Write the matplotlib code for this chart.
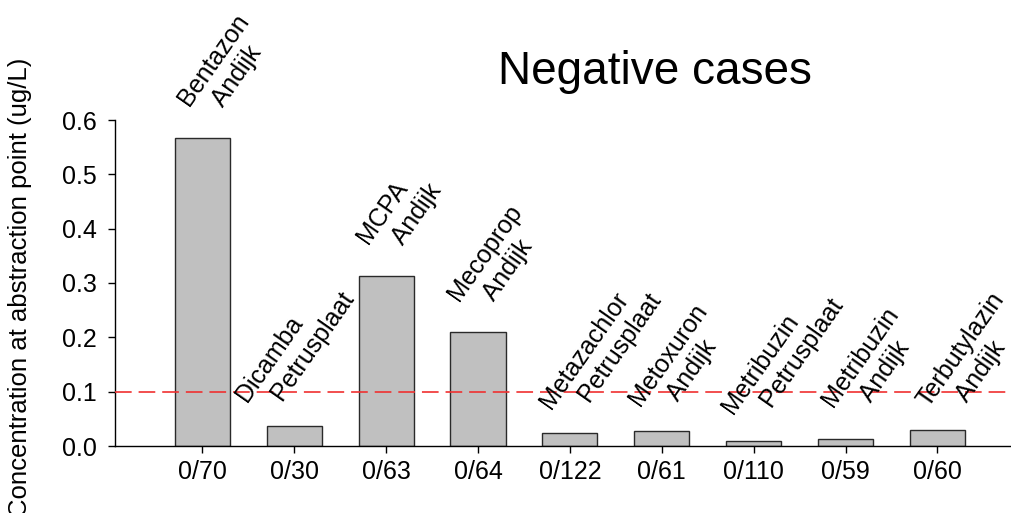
import numpy as np
import matplotlib
matplotlib.use("Agg")
import matplotlib.pyplot as plt
import matplotlib.transforms as mtransforms

plt.rcParams['font.family'] = ['Liberation Sans', 'DejaVu Sans']
plt.rcParams['lines.scale_dashes'] = False

# pesticide / abstraction point, concentration (ug/L) and exceedance counts
compounds = ['Bentazon', 'Dicamba', 'MCPA', 'Mecoprop', 'Metazachlor',
             'Metoxuron', 'Metribuzin', 'Metribuzin', 'Terbutylazin']
locations = ['Andijk', 'Petrusplaat', 'Andijk', 'Andijk', 'Petrusplaat',
             'Andijk', 'Petrusplaat', 'Andijk', 'Andijk']
concentration = [0.567, 0.037, 0.313, 0.210, 0.024, 0.028, 0.009, 0.013, 0.030]
counts = ['0/70', '0/30', '0/63', '0/64', '0/122', '0/61', '0/110', '0/59', '0/60']
limit = 0.1

# baseline start of each rotated name: offset from bar centre, height in ug/L
label_dx = [-0.23, -0.59, -0.276, -0.287, -0.29, -0.32, -0.31, -0.22, -0.18]
label_y = [0.633, 0.088, 0.379, 0.275, 0.075, 0.081, 0.066, 0.079, 0.079]
indent = [3, 3, 3, 3, 4, 4, 4, 4, 4]

x = np.arange(len(compounds))

fig = plt.figure(figsize=(10.11, 5.13), dpi=100)
ax = fig.add_axes([115 / 1011, 67 / 513, 896 / 1011, 326 / 513])

ax.bar(x, concentration, width=0.6, color='#c0c0c0', edgecolor='#2a2a2a',
       linewidth=1.0, zorder=2)
ax.axhline(limit, color='#f03030', lw=1.2, dashes=(12, 5), zorder=3)

# the anchor sits on the second line's baseline, one line below the first
line_shift = mtransforms.offset_copy(ax.transData, fig=fig, x=27, y=-19,
                                     units='dots')
for i in range(len(x)):
    txt = compounds[i] + '\n' + ' ' * indent[i] + locations[i]
    ax.text(x[i] + label_dx[i], label_y[i], txt, rotation=55,
            rotation_mode='anchor', ha='left', va='baseline',
            multialignment='left', fontsize=18, linespacing=1.25, zorder=4,
            transform=line_shift)

ax.set_xlim(-0.95, 8.8)
ax.set_ylim(0, 0.6)
ax.set_xticks(x)
ax.set_xticklabels(counts, fontsize=18)
ax.set_yticks(np.arange(0, 0.61, 0.1))
ax.set_yticklabels(['%.1f' % v for v in np.arange(0, 0.61, 0.1)], fontsize=18)
ax.tick_params(axis='both', direction='out', length=5, width=1)
ax.tick_params(axis='y', pad=8)
ax.tick_params(axis='x', pad=5)

ax.spines['top'].set_visible(False)
ax.spines['right'].set_visible(False)
ax.spines['left'].set_linewidth(1)
ax.spines['bottom'].set_linewidth(1)

fig.text(20 / 1011, 0.44, 'Concentration at abstraction point (ug/L)',
         rotation=90, ha='center', va='center', fontsize=18.5)
fig.text(655 / 1011, (513 - 84) / 513, 'Negative cases', ha='center',
         va='baseline', fontsize=33)

fig.savefig('out.png', dpi=100)
